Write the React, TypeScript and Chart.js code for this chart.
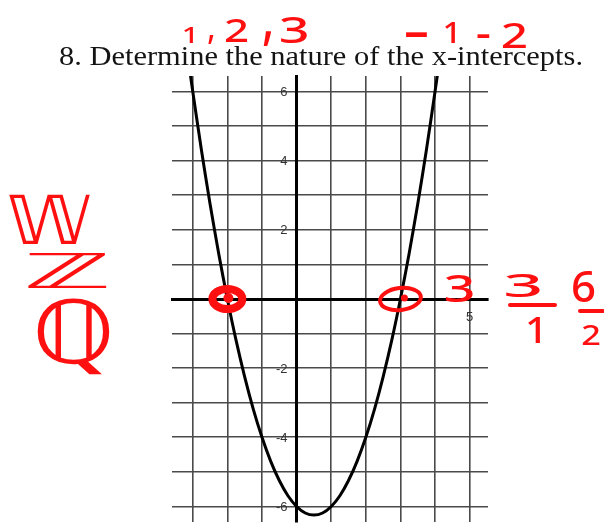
import { useEffect, useRef } from "react";
import { Chart, registerables } from "chart.js";

Chart.register(...registerables);

// Parabola y = (x + 2)(x - 3)
const curveX = [-3.08, -3, -2.75, -2.5, -2.25, -2, -1.75, -1.5, -1.25, -1, -0.75, -0.5, -0.25, 0, 0.25, 0.5, 0.75, 1, 1.25, 1.5, 1.75, 2, 2.25, 2.5, 2.75, 3, 3.25, 3.5, 3.75, 4, 4.08];
const curveY = [6.57, 6, 4.31, 2.75, 1.31, 0, -1.19, -2.25, -3.19, -4, -4.69, -5.25, -5.69, -6, -6.19, -6.25, -6.19, -6, -5.69, -5.25, -4.69, -4, -3.19, -2.25, -1.19, 0, 1.31, 2.75, 4.31, 6, 6.57];

// Grid and labelled ticks
const xGridValues = [-3, -2, -1, 0, 1, 2, 3, 4, 5];
const yGridValues = [-6, -5, -4, -3, -2, -1, 0, 1, 2, 3, 4, 5, 6];
const xLabelled = [5];
const yLabelled = [6, 4, 2, -2, -4, -6];
const xRange = [-3.6, 5.53];
const yRange = [-6.45, 6.45];

// x-intercepts circled in red
const intercepts = [-2, 3];

const TITLE = "8. Determine the nature of the x-intercepts.";
const RED = "#ff1010";
const HAND = '500 40px "Noto Sans"';

type Note = { text: string; font: string; box: [number, number, number, number] };

// Red marker notes written around the graph
const notes: Note[] = [
  { text: "1", font: HAND, box: [184, 27, 193, 43] },
  { text: ",", font: HAND, box: [208, 34, 214, 43] },
  { text: "2", font: HAND, box: [225, 18, 248, 42] },
  { text: ",", font: HAND, box: [263, 30, 272, 45] },
  { text: "3", font: HAND, box: [280, 17, 307, 43] },
  { text: "-", font: HAND, box: [405, 32, 428, 37] },
  { text: "1", font: HAND, box: [445, 22, 455, 43] },
  { text: "-", font: HAND, box: [477, 34, 490, 38] },
  { text: "2", font: HAND, box: [502, 23, 527, 48] },
  { text: "3", font: HAND, box: [445, 275, 473, 302] },
  { text: "3", font: HAND, box: [505, 273, 540, 297] },
  { text: "1", font: HAND, box: [528, 317, 540, 343] },
  { text: "6", font: HAND, box: [572, 270, 595, 302] },
  { text: "2", font: HAND, box: [582, 325, 600, 345] },
  { text: "\u{1D54E}", font: '56px "DejaVu Sans"', box: [8, 195, 90, 245] },
  { text: "\u2124", font: '44px "DejaVu Sans"', box: [26, 252, 107, 288] },
  { text: "\u211A", font: '80px "DejaVu Sans"', box: [37, 298, 110, 375] },
];

const fractionBars: [number, number, number, number][] = [
  [510, 305, 555, 305],
  [580, 311, 603, 311],
];

function drawFit(ctx: CanvasRenderingContext2D, n: Note) {
  ctx.font = n.font;
  ctx.textAlign = "left";
  ctx.textBaseline = "alphabetic";
  const m = ctx.measureText(n.text);
  const w = m.actualBoundingBoxLeft + m.actualBoundingBoxRight;
  const h = m.actualBoundingBoxAscent + m.actualBoundingBoxDescent;
  const [x0, y0, x1, y1] = n.box;
  ctx.save();
  ctx.translate(x0, y0);
  ctx.scale((x1 - x0) / w, (y1 - y0) / h);
  ctx.fillText(n.text, m.actualBoundingBoxLeft, m.actualBoundingBoxAscent);
  ctx.restore();
}

const titlePlugin = {
  id: "worksheetTitle",
  afterDraw(chart: Chart) {
    const ctx = chart.ctx;
    ctx.save();
    ctx.font = '27px "Liberation Serif"';
    ctx.fillStyle = "#141414";
    ctx.textAlign = "left";
    ctx.textBaseline = "alphabetic";
    const w = ctx.measureText(TITLE).width;
    ctx.translate(59, 65);
    ctx.scale(524 / w, 1);
    ctx.fillText(TITLE, 0, 0);
    ctx.restore();
  },
};

// y tick labels sit just left of the y-axis line
const yLabelPlugin = {
  id: "yAxisLabels",
  afterDraw(chart: Chart) {
    const ctx = chart.ctx;
    const xs = chart.scales.x;
    const ys = chart.scales.y;
    const ax = xs.getPixelForValue(0);
    ctx.save();
    ctx.font = '13px "Liberation Sans"';
    ctx.fillStyle = "#333";
    ctx.textAlign = "right";
    ctx.textBaseline = "middle";
    yLabelled.forEach((v) => ctx.fillText(String(v), ax - 9, ys.getPixelForValue(v) + 1));
    ctx.restore();
  },
};

const markerPlugin = {
  id: "redMarker",
  afterDraw(chart: Chart) {
    const ctx = chart.ctx;
    const xs = chart.scales.x;
    const ys = chart.scales.y;
    ctx.save();
    ctx.strokeStyle = RED;
    ctx.fillStyle = RED;
    ctx.lineCap = "round";
    // circles round the intercepts
    intercepts.forEach((v, i) => {
      const cx = xs.getPixelForValue(v);
      const cy = ys.getPixelForValue(0);
      ctx.beginPath();
      if (i === 0) {
        ctx.lineWidth = 8;
        ctx.ellipse(cx, cy, 15, 10, 0, 0, Math.PI * 2);
      } else {
        ctx.lineWidth = 4;
        ctx.ellipse(cx, cy, 20.5, 11, -0.12, 0, Math.PI * 2);
      }
      ctx.stroke();
      ctx.beginPath();
      ctx.arc(cx + (i === 0 ? 1 : 4), cy - 1, i === 0 ? 5 : 3.5, 0, Math.PI * 2);
      ctx.fill();
    });
    ctx.lineWidth = 4;
    fractionBars.forEach(([a, b, c, d]) => {
      ctx.beginPath();
      ctx.moveTo(a, b);
      ctx.lineTo(c, d);
      ctx.stroke();
    });
    notes.forEach((n) => drawFit(ctx, n));
    ctx.restore();
  },
};

export default function App() {
  const ref = useRef<HTMLCanvasElement>(null);

  useEffect(() => {
    if (!ref.current) return;
    const chart = new Chart(ref.current, {
      type: "scatter",
      data: {
        datasets: [
          {
            data: curveX.map((x, i) => ({ x, y: curveY[i] })),
            showLine: true,
            borderColor: "#000",
            borderWidth: 3,
            pointRadius: 0,
            tension: 0.3,
          },
        ],
      },
      options: {
        responsive: false,
        animation: false,
        events: [],
        layout: { padding: { left: 172, right: 116, top: 76, bottom: 6 } },
        plugins: { legend: { display: false }, tooltip: { enabled: false }, title: { display: false } },
        scales: {
          x: {
            type: "linear",
            min: xRange[0],
            max: xRange[1],
            position: { y: 0 },
            afterBuildTicks: (s: any) => {
              s.ticks = xGridValues.map((value) => ({ value }));
            },
            grid: { color: "#4a4a4a", lineWidth: 1.6, drawTicks: false },
            border: { display: true, color: "#000", width: 3 },
            ticks: {
              autoSkip: false,
              maxRotation: 0,
              padding: 11,
              color: "#333",
              font: { family: '"Liberation Sans"', size: 13 },
              callback: (v: any) => (xLabelled.includes(Number(v)) ? String(v) : ""),
            },
          },
          y: {
            type: "linear",
            min: yRange[0],
            max: yRange[1],
            position: { x: 0 },
            afterBuildTicks: (s: any) => {
              s.ticks = yGridValues.map((value) => ({ value }));
            },
            grid: { color: "#4a4a4a", lineWidth: 1.6, drawTicks: false },
            border: { display: true, color: "#000", width: 3 },
            ticks: { display: false },
          },
        },
      },
      plugins: [titlePlugin, yLabelPlugin, markerPlugin],
    });
    return () => chart.destroy();
  }, []);

  return (
    <div style={{ position: "absolute", left: 0, top: 0, width: 604, height: 528, background: "#fff" }}>
      <canvas ref={ref} width={604} height={528} />
    </div>
  );
}
